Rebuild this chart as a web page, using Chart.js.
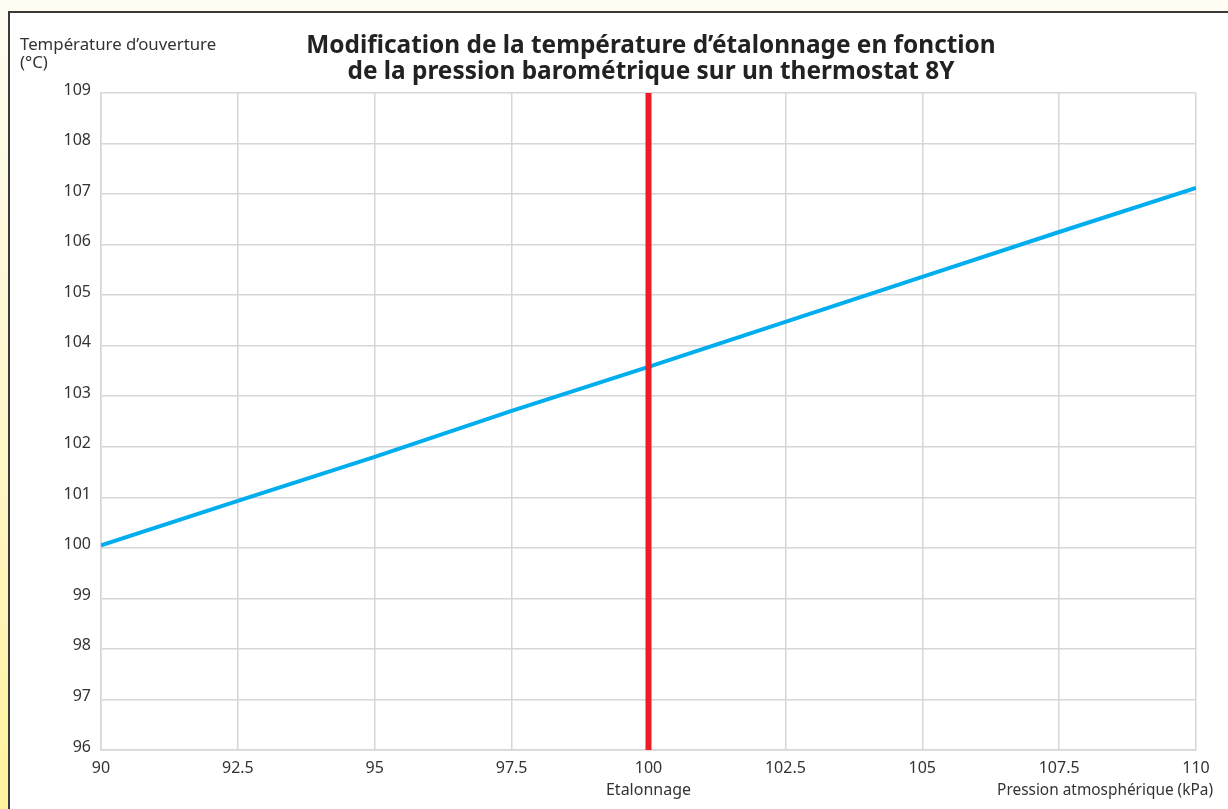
<!DOCTYPE html>
<html>
<head>
<meta charset="utf-8">
<script src="https://cdn.jsdelivr.net/npm/chart.js@4"></script>
<style>
  html, body { margin:0; padding:0; }
  body { width:1228px; height:809px; overflow:hidden; position:relative;
         background: linear-gradient(to bottom, #fffdf3 0%, #fff6c4 60%, #fff29c 100%); font-family: 'Noto Sans', sans-serif; }
  #box { position:absolute; left:8px; top:11px; right:0; bottom:0; background:#fff;
         border-left:2px solid #3a3a3a; border-top:2px solid #3a3a3a; }
  #wrap { position:absolute; left:0; top:0; width:1228px; height:809px; }
</style>
</head>
<body>
<div id="box"></div>
<div id="wrap"><canvas id="c" width="1228" height="809"></canvas></div>
<script>
const titleLines = ["Modification de la température d’étalonnage en fonction", "de la pression barométrique sur un thermostat 8Y"];
const yAxisTitle = ["Température d’ouverture", "(°C)"];
const xAxisTitle = "Pression atmosphérique (kPa)";
const calibrationLabel = "Etalonnage";
const pressure = [90, 92.5, 95, 97.5, 100, 102.5, 105, 107.5, 110];
const temperature = [100.05, 100.93, 101.8, 102.71, 103.58, 104.47, 105.36, 106.25, 107.12];
const calibrationPressure = 100;
const yMin = 96, yMax = 109, yStep = 1;
const xMin = 90, xMax = 110, xStep = 2.5;

const FONT = "'Noto Sans', sans-serif";
const textColor = '#333333';

const textPlugin = {
  id: 'texts',
  afterDraw(chart) {
    const ctx = chart.ctx;
    ctx.save();
    ctx.fillStyle = '#222222';
    ctx.font = "bold 24.4px " + FONT;
    ctx.textAlign = 'center';
    ctx.textBaseline = 'middle';
    ctx.fillText(titleLines[0], 651, 46);
    ctx.fillText(titleLines[1], 651, 72);
    ctx.font = "16.8px " + FONT;
    ctx.fillStyle = textColor;
    ctx.textAlign = 'left';
    ctx.fillText(yAxisTitle[0], 20, 45);
    ctx.fillText(yAxisTitle[1], 20, 63);
    ctx.font = "15.4px " + FONT;
    ctx.textAlign = 'right';
    ctx.fillText(xAxisTitle, 1213, 791);
    ctx.restore();
  }
};

const lineData = pressure.map((p, i) => ({x: p, y: temperature[i]}));
const calData = [{x: calibrationPressure, y: yMin}, {x: calibrationPressure, y: yMax}];

new Chart(document.getElementById('c'), {
  type: 'scatter',
  data: {
    datasets: [
      { data: calData, showLine: true, borderColor: '#ee1c25', borderWidth: 6, pointRadius: 0, order: 1, borderCapStyle: 'butt' },
      { data: lineData, showLine: true, borderColor: '#00aeef', borderWidth: 4, pointRadius: 0, order: 2, tension: 0 }
    ]
  },
  options: {
    responsive: false,
    animation: false,
    devicePixelRatio: 1,
    layout: { padding: { left: 0, right: 32, top: 93, bottom: 0 } },
    plugins: { legend: { display: false }, tooltip: { enabled: false }, title: { display: false } },
    scales: {
      x: {
        type: 'linear', min: xMin, max: xMax,
        afterBuildTicks(scale) {
          const t = [];
          for (let v = xMin; v <= xMax + 1e-9; v += xStep) t.push({value: v});
          scale.ticks = t;
        },
        afterFit(scale) { scale.height = 59; },
        grid: { color: '#d6d6d6', lineWidth: 1.5, drawTicks: false },
        border: { color: '#d6d6d6', width: 1.5 },
        ticks: {
          padding: 7, color: textColor, font: { family: FONT, size: 16, lineHeight: 1.4 },
          maxRotation: 0, autoSkip: false,
          callback(v) { return v === calibrationPressure ? [String(v), calibrationLabel] : String(v); }
        }
      },
      y: {
        type: 'linear', min: yMin, max: yMax,
        afterFit(scale) { scale.width = 101; },
        grid: { color: '#d6d6d6', lineWidth: 1.5, drawTicks: false },
        border: { color: '#d6d6d6', width: 1.5 },
        ticks: { stepSize: yStep, padding: 10, labelOffset: -3, color: textColor, font: { family: FONT, size: 16 } }
      }
    }
  },
  plugins: [textPlugin]
});
</script>
</body>
</html>
